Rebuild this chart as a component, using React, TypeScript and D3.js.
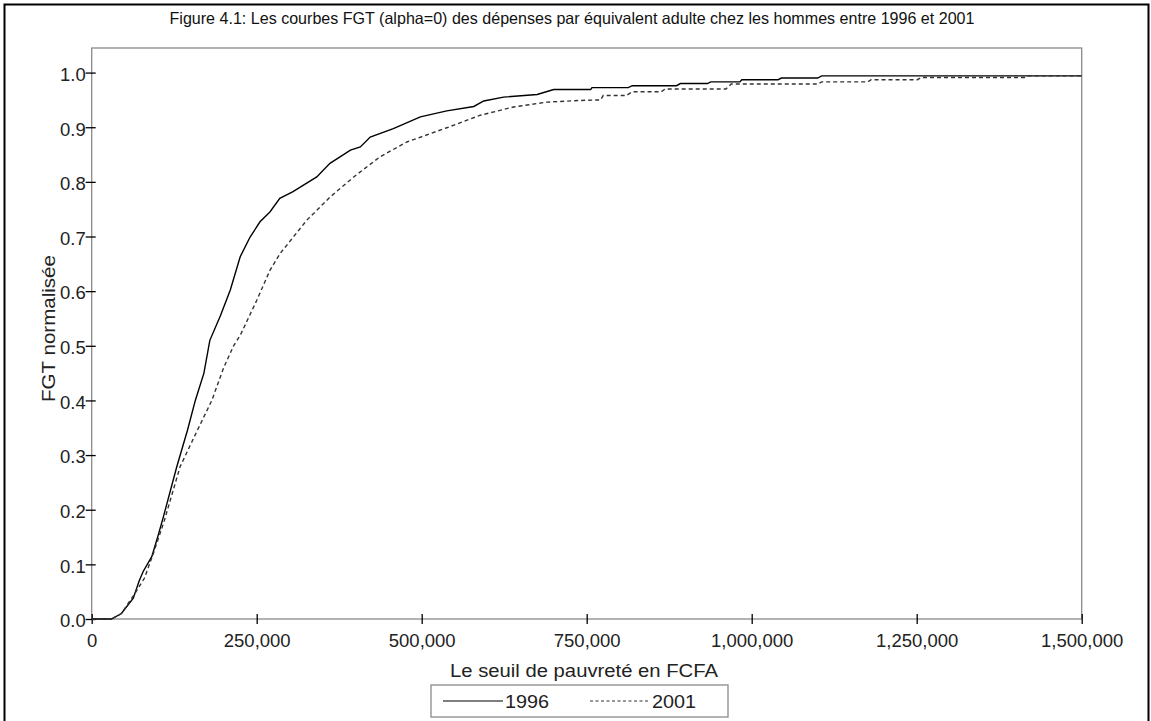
import React, { useEffect, useRef } from "react";
import * as d3 from "d3";

const title =
  "Figure 4.1: Les courbes FGT (alpha=0) des dépenses par équivalent adulte chez les hommes entre 1996 et 2001";
const xLabel = "Le seuil de pauvreté en FCFA";
const yLabel = "FGT normalisée";
const seriesNames = ["1996", "2001"];

const xTicks = [0, 250000, 500000, 750000, 1000000, 1250000, 1500000];
const yTicks = [0, 0.1, 0.2, 0.3, 0.4, 0.5, 0.6, 0.7, 0.8, 0.9, 1.0];

// seuil en milliers de FCFA
const seuil1996 = [
  0, 30, 45, 63, 72, 78, 91, 100, 108.6, 129, 145, 157, 170, 179, 195, 210,
  225, 240, 255, 270, 285, 305, 341, 361, 392, 407, 422, 457, 498, 538, 579,
  594, 624, 675, 700, 756, 758, 813, 819, 886, 892, 933, 938, 982, 985, 1040,
  1045, 1100, 1106, 1500,
];
const fgt1996 = [
  0, 0, 0.01, 0.038, 0.07, 0.087, 0.114, 0.15, 0.187, 0.279, 0.345, 0.4,
  0.45, 0.51, 0.555, 0.602, 0.663, 0.699, 0.727, 0.745, 0.77, 0.782, 0.809,
  0.834, 0.858, 0.864, 0.882, 0.8975, 0.919, 0.93, 0.938, 0.948, 0.955, 0.96,
  0.969, 0.969, 0.9725, 0.9725, 0.976, 0.976, 0.98, 0.98, 0.983, 0.983, 0.987,
  0.987, 0.99, 0.99, 0.994, 0.994,
];

const seuil2001 = [
  0, 30, 45, 65.6, 80, 93.4, 110, 134, 158, 182, 200, 215, 225, 250, 270,
  285.5, 326, 361, 397, 437, 477.5, 538, 589, 639, 690, 740, 771, 775, 810,
  819, 863, 869, 961, 969, 1100, 1106, 1176, 1181, 1251, 1257, 1413, 1420,
  1500,
];
const fgt2001 = [
  0, 0, 0.01, 0.047, 0.075, 0.12, 0.18, 0.279, 0.34, 0.4, 0.46, 0.5, 0.519,
  0.583, 0.638, 0.669, 0.73, 0.772, 0.809, 0.846, 0.873, 0.899, 0.922, 0.937,
  0.946, 0.949, 0.95, 0.958, 0.958, 0.965, 0.965, 0.97, 0.97, 0.979, 0.979,
  0.983, 0.983, 0.987, 0.987, 0.991, 0.991, 0.994, 0.994,
];

const font = "'Liberation Sans', Arial, sans-serif";

function FgtChart() {
  const ref = useRef<SVGSVGElement>(null);

  useEffect(() => {
    const svg = d3.select(ref.current);
    svg.selectAll("*").remove();

    const left = 91.7,
      right = 1081.7,
      top = 48,
      bottom = 619;

    const x = d3.scaleLinear().domain([0, 1500000]).range([left, right]);
    const y = d3.scaleLinear().domain([0, 1.045]).range([bottom, top]);

    // cadre extérieur
    svg
      .append("path")
      .attr("d", "M4.5,721 L4.5,4.5 L1148.5,4.5 L1148.5,721")
      .attr("fill", "none")
      .attr("stroke", "#000")
      .attr("stroke-width", 2);

    svg
      .append("text")
      .attr("x", 572)
      .attr("y", 24)
      .attr("text-anchor", "middle")
      .attr("textLength", 805)
      .attr("lengthAdjust", "spacingAndGlyphs")
      .style("font-family", font)
      .style("font-size", "16.5px")
      .style("fill", "#111")
      .text(title);

    // cadre du graphique
    svg
      .append("rect")
      .attr("x", left)
      .attr("y", top)
      .attr("width", right - left)
      .attr("height", bottom - top)
      .attr("fill", "none")
      .attr("stroke", "#8a8a8a")
      .attr("stroke-width", 1.3);

    const yAxis = d3
      .axisLeft(y)
      .tickValues(yTicks)
      .tickSize(6)
      .tickPadding(0)
      .tickFormat(d3.format(".1f"));

    const gy = svg
      .append("g")
      .attr("transform", `translate(${left},0)`)
      .call(yAxis);
    gy.select(".domain").remove();
    gy.selectAll("line").attr("x1", 4).attr("stroke", "#000").attr("stroke-width", 1.3);
    gy.selectAll("text")
      .attr("dy", "0.42em")
      .style("font-family", font)
      .style("font-size", "18.5px")
      .style("fill", "#222");

    const xAxis = d3
      .axisBottom(x)
      .tickValues(xTicks)
      .tickSize(5)
      .tickPadding(10)
      .tickFormat(d3.format(","));

    const gx = svg
      .append("g")
      .attr("transform", `translate(0,${bottom})`)
      .call(xAxis);
    gx.select(".domain").remove();
    gx.selectAll("line").attr("y1", -5).attr("stroke", "#000").attr("stroke-width", 1.3);
    gx.selectAll("text")
      .style("font-family", font)
      .style("font-size", "18.5px")
      .style("fill", "#222");

    svg
      .append("text")
      .attr("x", 584)
      .attr("y", 677)
      .attr("text-anchor", "middle")
      .attr("textLength", 268)
      .attr("lengthAdjust", "spacingAndGlyphs")
      .style("font-family", font)
      .style("font-size", "17.5px")
      .style("fill", "#222")
      .text(xLabel);

    svg
      .append("text")
      .attr("transform", "translate(55,328.5) rotate(-90)")
      .attr("text-anchor", "middle")
      .attr("textLength", 147)
      .attr("lengthAdjust", "spacingAndGlyphs")
      .style("font-family", font)
      .style("font-size", "18px")
      .style("fill", "#222")
      .text(yLabel);

    const series = [
      { name: seriesNames[0], xs: seuil1996, ys: fgt1996, dash: null, color: "#000" },
      { name: seriesNames[1], xs: seuil2001, ys: fgt2001, dash: "4,3", color: "#333" },
    ];

    const path = d3
      .line<[number, number]>()
      .x((d) => x(d[0]))
      .y((d) => y(d[1]));

    series.forEach((s) => {
      const pts: [number, number][] = s.xs.map((v, i) => [v * 1000, s.ys[i]]);
      svg
        .append("path")
        .datum(pts)
        .attr("d", path)
        .attr("fill", "none")
        .attr("stroke", s.color)
        .attr("stroke-width", 1.4)
        .attr("stroke-dasharray", s.dash);
    });

    // légende
    svg
      .append("rect")
      .attr("x", 431)
      .attr("y", 685)
      .attr("width", 297)
      .attr("height", 32)
      .attr("fill", "none")
      .attr("stroke", "#8a8a8a")
      .attr("stroke-width", 1.3);

    const legend = svg
      .selectAll(".legend-item")
      .data(series)
      .enter()
      .append("g")
      .attr("class", "legend-item")
      .attr("transform", (d, i) => `translate(${443 + i * 147},701)`);

    legend
      .append("line")
      .attr("x1", 0)
      .attr("x2", 60)
      .attr("stroke", (d) => d.color)
      .attr("stroke-width", 1.2)
      .attr("stroke-dasharray", (d) => (d.dash ? "3,2.5" : null));

    legend
      .append("text")
      .attr("x", 62)
      .attr("y", 7)
      .attr("textLength", 44)
      .attr("lengthAdjust", "spacingAndGlyphs")
      .style("font-family", font)
      .style("font-size", "19px")
      .style("fill", "#222")
      .text((d) => d.name);
  }, []);

  return (
    <svg
      ref={ref}
      width={1151}
      height={721}
      style={{ position: "absolute", left: 0, top: 0, background: "#fff" }}
    />
  );
}

export default function App() {
  return <FgtChart />;
}
